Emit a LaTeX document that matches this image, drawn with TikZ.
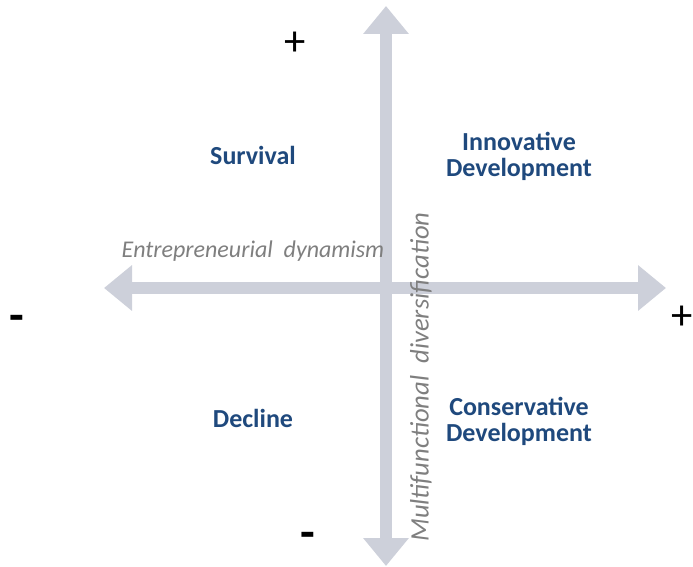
\documentclass[tikz,border=0pt]{standalone}
\usepackage{fontspec}
\setmainfont{Carlito}
\usetikzlibrary{arrows.meta}
\definecolor{axisgrey}{RGB}{205,208,218}
\definecolor{labelblue}{RGB}{31,73,125}
\definecolor{axistext}{RGB}{127,127,127}
\tikzset{
  axis/.style={line width=9pt, axisgrey, {Triangle[length=21pt,width=33pt]}-{Triangle[length=21pt,width=33pt]}},
  quad/.style={font=\fontsize{19.5}{19.5}\selectfont\bfseries, text=labelblue, align=center, inner sep=0pt},
  axlabel/.style={font=\fontsize{18}{20}\selectfont\itshape, text=axistext, inner sep=0pt},
  vlabel/.style={font=\fontsize{20}{20}\selectfont\itshape, text=axistext, inner sep=0pt},
  sign/.style={font=\fontsize{32}{34}\selectfont, text=black, inner sep=0pt},
  minus/.style={font=\fontsize{36}{38}\selectfont\bfseries, text=black, inner sep=0pt}
}
\begin{document}
\begin{tikzpicture}[x=0.75pt,y=-0.75pt]
\useasboundingbox (0,0) rectangle (693,567);
\coordinate (vtop) at (386,6);
\coordinate (vbot) at (386,566);
\coordinate (hleft) at (104,288);
\coordinate (hright) at (666,288);
\draw[axis] (hleft) -- (hright);
\draw[axis] (vbot) -- (vtop);
\node[axlabel] (ed) at (253,251) {Entrepreneurial\ \ dynamism};
\node[vlabel, rotate=90] (md) at (421,377) {Multifunctional\ \ diversification};
\node[quad] (surv) at (253,155) {Survival};
\node[quad] (innov) at (519,156) {Innovative\\Development};
\node[quad] (decl) at (253,418) {Decline};
\node[quad] (cons) at (519,421) {Conservative\\Development};
\node[sign] (ptop) at (295,44) {+};
\node[minus] (mleft) at (17,323) {-};
\node[sign] (pright) at (682,318) {+};
\node[minus] (mbot) at (308,540) {-};
\end{tikzpicture}
\end{document}
